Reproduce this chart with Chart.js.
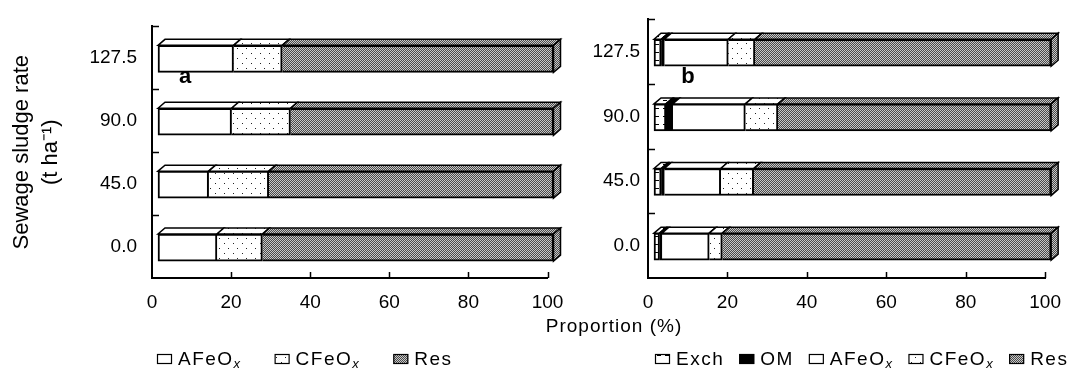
<!DOCTYPE html>
<html>
<head>
<meta charset="utf-8">
<script src="https://cdn.jsdelivr.net/npm/chart.js@4.4.0/dist/chart.umd.min.js"></script>
<style>
  html, body { margin: 0; padding: 0; background: #fff; }
  #wrap { position: relative; width: 1074px; height: 379px; overflow: hidden;
          font-family: 'Liberation Sans', Arial, sans-serif; }
  #wrap canvas { position: absolute; left: 0; top: 0; }
  #xtitle { position: absolute; left: 514px; width: 200px; top: 315px; text-align: center;
            font-size: 19px; line-height: 22px; letter-spacing: 1px; color: #000; }
</style>
</head>
<body>
<div id="wrap">
  <canvas id="panelA" width="1074" height="379"></canvas>
  <canvas id="panelB" width="1074" height="379"></canvas>
  <div id="xtitle">Proportion (%)</div>
</div>
<script>
// sludge rates, top to bottom
const rates = ['127.5', '90.0', '45.0', '0.0'];
const xTicks = [0, 20, 40, 60, 80, 100];

// panel a (%)
const aAFeOx = [19.1, 18.6, 12.8, 14.9];
const aCFeOx = [12.3, 14.9, 15.2, 11.5];
const aRes   = [68.6, 66.5, 72.0, 73.6];

// panel b (%)
const bExch  = [1.8, 3.0, 1.8, 1.4];
const bOM    = [0.8, 1.7, 0.8, 0.6];
const bAFeOx = [16.1, 18.3, 14.2, 11.9];
const bCFeOx = [6.7, 8.2, 8.3, 3.3];
const bRes   = [74.6, 68.8, 74.9, 82.8];

const FONT = "'Liberation Sans', Arial, sans-serif";

function makePattern(kind) {
  const c = document.createElement('canvas');
  const g = c.getContext('2d');
  if (kind === 'res') {
    c.width = c.height = 2;
    g.fillStyle = '#c8c8c8'; g.fillRect(0, 0, 2, 2);
    g.fillStyle = '#4a4a4a'; g.fillRect(0, 0, 1, 1); g.fillRect(1, 1, 1, 1);
  } else if (kind === 'dots') {
    c.width = 9; c.height = 10;
    g.fillStyle = '#fff'; g.fillRect(0, 0, 9, 10);
    g.fillStyle = '#222'; g.fillRect(2, 2, 1, 1); g.fillRect(6, 7, 1, 1);
  } else { // exch: short dashes
    c.width = 8; c.height = 8;
    g.fillStyle = '#fff'; g.fillRect(0, 0, 8, 8);
    g.fillStyle = '#000'; g.fillRect(1, 3, 4, 1);
  }
  return g.createPattern(c, 'repeat');
}

const fill = {
  exch: makePattern('exch'),
  om: '#000',
  afe: '#fff',
  cfe: makePattern('dots'),
  res: makePattern('res')
};

function series(label, data, bg, first) {
  return {
    label, data, backgroundColor: bg,
    borderColor: '#000', borderWidth: 2,
    borderSkipped: first ? false : 'start',
    barThickness: 27, clip: false
  };
}

/* fake 3D boxes: shift the front faces, then add top and end faces */
const box3d = {
  id: 'box3d',
  beforeDatasetsDraw(chart) {
    chart.ctx.save();
    chart.ctx.translate(6, 1);
  },
  afterDatasetsDraw(chart) {
    const ctx = chart.ctx;
    const dx = 7, dy = 6;
    const sets = chart.data.datasets;
    sets.forEach((d, i) => {
      chart.getDatasetMeta(i).data.forEach(bar => {
        const p = bar.getProps(['x', 'y', 'base', 'height'], true);
        const top = p.y - p.height / 2, bottom = p.y + p.height / 2;
        const l = Math.min(p.x, p.base), r = Math.max(p.x, p.base);
        ctx.lineWidth = 1.5;
        ctx.strokeStyle = '#000';
        ctx.fillStyle = d.backgroundColor;
        ctx.beginPath();
        ctx.moveTo(l, top); ctx.lineTo(l + dx, top - dy);
        ctx.lineTo(r + dx, top - dy); ctx.lineTo(r, top);
        ctx.closePath(); ctx.fill(); ctx.stroke();
        if (i === sets.length - 1) {
          ctx.beginPath();
          ctx.moveTo(r, top); ctx.lineTo(r + dx, top - dy);
          ctx.lineTo(r + dx, bottom - dy); ctx.lineTo(r, bottom);
          ctx.closePath(); ctx.fill(); ctx.stroke();
        }
      });
    });
    ctx.restore();
  }
};

/* inward tick marks, panel letter, legend row */
const extras = {
  id: 'extras',
  afterDraw(chart, args, o) {
    const { ctx, chartArea: a, scales: { x, y } } = chart;
    ctx.save();
    ctx.strokeStyle = '#000';
    ctx.lineWidth = 1.5;
    ctx.beginPath();
    xTicks.slice(1).forEach(v => {
      const px = Math.round(x.getPixelForValue(v)) + 0.5;
      ctx.moveTo(px, a.bottom); ctx.lineTo(px, a.bottom - 6);
    });
    const half = (y.getPixelForValue(1) - y.getPixelForValue(0)) / 2;
    rates.forEach((r, i) => {
      const py = Math.round(y.getPixelForValue(i) - half) + 0.5;
      ctx.moveTo(a.left, py); ctx.lineTo(a.left + 7, py);
    });
    ctx.stroke();

    // panel letter
    ctx.fillStyle = '#000';
    ctx.font = 'bold 22px ' + FONT;
    ctx.textAlign = 'center';
    ctx.textBaseline = 'middle';
    ctx.fillText(o.letter, a.left + o.letterDx, 77);

    // legend
    ctx.letterSpacing = '1.5px';
    ctx.textAlign = 'left';
    ctx.textBaseline = 'alphabetic';
    let lx = o.legendX;
    const ly = 365;
    chart.data.datasets.forEach(d => {
      ctx.fillStyle = d.backgroundColor;
      ctx.fillRect(lx, ly - 11, 15, 10);
      ctx.lineWidth = 1.2;
      ctx.strokeRect(lx + 0.5, ly - 10.5, 14, 9);
      ctx.fillStyle = '#000';
      const sub = d.label.endsWith('Ox');
      const main = sub ? d.label.slice(0, -1) : d.label;
      ctx.font = '19px ' + FONT;
      ctx.fillText(main, lx + 21, ly);
      let w = ctx.measureText(main).width;
      if (sub) {
        ctx.font = 'italic 13px ' + FONT;
        ctx.fillText('x', lx + 21 + w, ly + 3);
        w += ctx.measureText('x').width;
      }
      lx += 21 + w + o.legendGap;
    });
    ctx.restore();
  }
};

function makeOptions(cfg) {
  return {
    indexAxis: 'y',
    responsive: false,
    animation: false,
    devicePixelRatio: 1,
    layout: { padding: { top: 13, right: cfg.padRight, bottom: 0, left: 0 } },
    plugins: {
      legend: { display: false },
      tooltip: { enabled: false },
      extras: cfg
    },
    scales: {
      x: {
        stacked: true, min: 0, max: 100,
        afterBuildTicks(s) { s.ticks = xTicks.map(v => ({ value: v })); },
        grid: { display: false, drawTicks: false },
        border: { display: true, color: '#000', width: 2 },
        ticks: { color: '#000', font: { family: FONT, size: 19 }, padding: 13, maxRotation: 0, autoSkip: false },
        afterFit(s) { s.height = 101; }
      },
      y: {
        stacked: true,
        grid: { display: false, drawTicks: false },
        border: { display: true, color: '#000', width: 2 },
        ticks: { color: '#000', font: { family: FONT, size: 19 }, padding: cfg.tickPad },
        title: cfg.yTitle ? {
          display: true,
          text: ['Sewage sludge rate', '(t ha\u207B\u00B9)'],
          color: '#000',
          font: { family: FONT, size: 22, lineHeight: 1.3 },
          padding: { top: 8, bottom: 0 }
        } : { display: false },
        afterFit(s) { s.width = cfg.axisX; }
      }
    }
  };
}

new Chart(document.getElementById('panelA'), {
  type: 'bar',
  data: {
    labels: rates,
    datasets: [
      series('AFeOx', aAFeOx, fill.afe, true),
      series('CFeOx', aCFeOx, fill.cfe, false),
      series('Res', aRes, fill.res, false)
    ]
  },
  options: makeOptions({ axisX: 152, padRight: 1074 - 547.5, yTitle: true, tickPad: 15,
                         letter: 'a', letterDx: 33, legendX: 157, legendGap: 33 }),
  plugins: [box3d, extras]
});

new Chart(document.getElementById('panelB'), {
  type: 'bar',
  data: {
    labels: rates,
    datasets: [
      series('Exch', bExch, fill.exch, true),
      series('OM', bOM, fill.om, false),
      series('AFeOx', bAFeOx, fill.afe, false),
      series('CFeOx', bCFeOx, fill.cfe, false),
      series('Res', bRes, fill.res, false)
    ]
  },
  options: makeOptions({ axisX: 648, padRight: 26, yTitle: false, tickPad: 8,
                         letter: 'b', letterDx: 40, legendX: 655, legendGap: 15 }),
  plugins: [box3d, extras]
});
</script>
</body>
</html>
